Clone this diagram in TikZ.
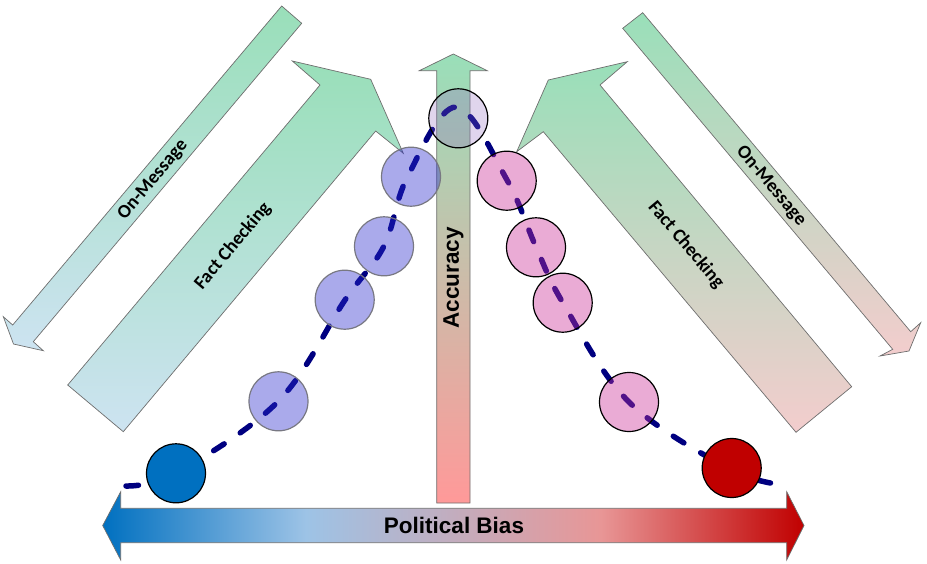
\documentclass[tikz,border=0pt]{standalone}
\usepackage{fontspec}
\newfontfamily\calib{Carlito}
\newfontfamily\arialf{Liberation Sans}
\definecolor{gtop}{RGB}{153,223,185}
\definecolor{bbot}{RGB}{205,227,241}
\definecolor{pbot}{RGB}{243,205,205}
\definecolor{abot}{RGB}{255,153,153}
\definecolor{bdark}{RGB}{0,112,192}
\definecolor{blight}{RGB}{157,195,230}
\definecolor{rlight}{RGB}{232,150,150}
\definecolor{rdark}{RGB}{192,0,0}
\definecolor{edgec}{RGB}{110,110,110}
\definecolor{navyc}{RGB}{0,0,128}
\definecolor{lbfill}{RGB}{42,42,205}
\definecolor{pkfill}{RGB}{202,45,151}
\definecolor{tpfill}{RGB}{140,100,190}
\definecolor{lbedge}{RGB}{120,120,130}
\pgfdeclarehorizontalshading{biasshade}{100bp}{color(0bp)=(bdark); color(25bp)=(bdark); color(39.5bp)=(blight); color(60.5bp)=(rlight); color(75bp)=(rdark); color(100bp)=(rdark)}
\begin{document}
\begin{tikzpicture}[x=1pt,y=-1pt,
  arrowedge/.style={draw=edgec, line width=0.7pt},
  leftarrow/.style={arrowedge, top color=gtop, bottom color=bbot},
  rightarrow/.style={arrowedge, top color=gtop, bottom color=pbot},
  circbase/.style={circle, minimum size=59pt, inner sep=0pt, line width=1.2pt},
  lbcirc/.style={circbase, fill=lbfill, fill opacity=0.4, draw=lbedge},
  pkcirc/.style={circbase, fill=pkfill, fill opacity=0.4, draw=black},
  tpcirc/.style={circbase, fill=tpfill, fill opacity=0.27, draw=black},
  endcirc/.style={circbase, draw=black},
  arrowtext/.style={font=\calib\bfseries\fontsize{19}{23}\selectfont, text=black},
  boldtext/.style={font=\arialf\bfseries\fontsize{22.5}{26}\selectfont, text=black},
  curve/.style={navyc, line width=5.5pt, dash pattern=on 12.5pt off 19.5pt, line cap=round}
]
\useasboundingbox (0,0) rectangle (927,563);

% On-Message arrows
\draw[leftarrow] (281.7,6) -- (12.7,325) -- (3.3,316.7) -- (13.5,344) -- (43.3,350.7) -- (33.3,341.7) -- (301.7,23.3) -- cycle;
\draw[rightarrow] (622.7,28.3) -- (892.7,349.3) -- (880,356) -- (909,351) -- (920.7,322.7) -- (910.7,331.7) -- (642.7,12.7) -- cycle;

% Fact Checking arrows
\draw[leftarrow] (67.7,385) -- (320,85) -- (292.3,61) -- (370.7,79.3) -- (403.3,153.3) -- (375.7,131) -- (123.3,431.7) -- cycle;
\draw[rightarrow] (851.7,386.7) -- (600,85) -- (627.3,61.7) -- (548.3,80) -- (516.7,151.7) -- (543.3,131.7) -- (796,432.3) -- cycle;

% Accuracy arrow
\draw[arrowedge, top color=gtop, bottom color=abot] (436.7,503) -- (436.7,70.7) -- (419.3,70.7) -- (453.3,54) -- (487.3,70.7) -- (470,70.7) -- (470,503) -- cycle;

% Political Bias arrow
\draw[arrowedge, shading=biasshade] (120.7,508.3) -- (786.7,508.3) -- (786.7,491.7) -- (804,525.5) -- (786.7,560) -- (786.7,542.7) -- (120.7,542.7) -- (120.7,560) -- (102.7,525.5) -- (120.7,491.7) -- cycle;

% texts on arrows
\node[arrowtext, rotate=50] (tom1) at (153,180) {On-Message};
\node[arrowtext, rotate=50] (tfc1) at (233,246) {Fact Checking};
\node[arrowtext, rotate=-50] (tfc2) at (686,245) {Fact Checking};
\node[arrowtext, rotate=-50] (tom2) at (771,186) {On-Message};
\node[boldtext, rotate=90] (tacc) at (453.5,278) {Accuracy};
\node[boldtext] (tbias) at (454,525) {Political Bias};

% dashed curve
\coordinate (k0) at (126,486);
\coordinate (k1) at (176,473);
\coordinate (k2) at (278.5,401);
\coordinate (k3) at (345,300);
\coordinate (k4) at (384,246);
\coordinate (k5) at (407,178);
\coordinate (k6) at (456,107);
\coordinate (k7) at (507,180);
\coordinate (k8) at (536,247);
\coordinate (k9) at (563,303);
\coordinate (k10) at (629,402);
\coordinate (k11) at (732,470);
\coordinate (k12) at (786,485);
\draw[curve] plot[smooth, tension=0.6] coordinates {(k0) (k1) (k2) (k3) (k4) (k5) (k6) (k7) (k8) (k9) (k10) (k11) (k12)};

% circles
\node[lbcirc] (l4) at (278.5,401.3) {};
\node[lbcirc] (l3) at (344.7,299.7) {};
\node[lbcirc] (l2) at (384,246.3) {};
\node[lbcirc] (l1) at (411,176.7) {};
\node[tpcirc] (top) at (458.3,118.3) {};
\node[pkcirc] (r1) at (506.7,180.7) {};
\node[pkcirc] (r2) at (536,247.3) {};
\node[pkcirc] (r3) at (562.7,302.7) {};
\node[pkcirc] (r4) at (629,402) {};
\node[endcirc, fill=bdark] (lend) at (176,473.3) {};
\node[endcirc, fill=rdark] (rend) at (731.7,468) {};
\end{tikzpicture}
\end{document}
